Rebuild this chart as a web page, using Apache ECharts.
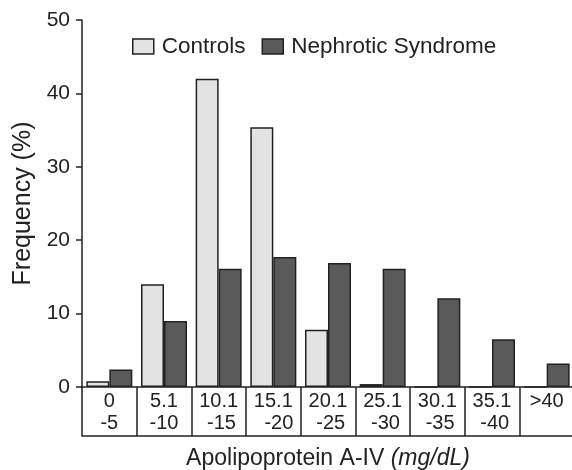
<!DOCTYPE html>
<html>
<head>
<meta charset="utf-8">
<script src="https://cdn.jsdelivr.net/npm/echarts@6/dist/echarts.min.js"></script>
<style>
	html, body { margin: 0; padding: 0; background: #fff; }
	#chart { width: 572px; height: 470px; }
</style>
</head>
<body>
<div id="chart"></div>
<script>
// value bins (mg/dL) and frequencies (%)
const categories = ['0\n-5', '5.1\n-10', '10.1\n -15', '15.1\n  -20', '20.1\n -25', '25.1\n -30', '30.1\n -35', '35.1\n -40', '>40\n'];
const controls = [0.8, 14, 42, 35.4, 7.8, 0.4, 0, 0, 0];
const nephrotic = [2.4, 9, 16.1, 17.7, 16.9, 16.1, 12.1, 6.5, 3.2];
const yTicks = [0, 10, 20, 30, 40, 50];

const font = "'Liberation Sans', Arial, Helvetica, sans-serif";
const ink = '#222';

const chart = echarts.init(document.getElementById('chart'));

const option = {
	backgroundColor: '#fff',
	textStyle: { fontFamily: font },
	legend: {
		left: 127,
		top: 30,
		icon: 'rect',
		itemWidth: 21,
		itemHeight: 15,
		itemGap: 16,
		textStyle: { fontSize: 22.5, color: ink, fontFamily: font, padding: [0, 0, 0, 3] },
		itemStyle: { borderColor: ink, borderWidth: 1.5 },
		data: ['Controls', 'Nephrotic Syndrome'],
	},
	grid: { left: 82, top: 20, width: 492, height: 367, outerBoundsMode: 'none', containLabel: false },
	xAxis: [
		{
			type: 'category',
			data: categories,
			axisLine: { lineStyle: { color: ink, width: 1.5 } },
			axisTick: { show: true, inside: false, length: 49, lineStyle: { color: ink, width: 1.5 } },
			axisLabel: {
				color: ink,
				fontSize: 20,
				lineHeight: 22,
				margin: 3,
				interval: 0,
				fontFamily: font,
			},
		},
		{
			type: 'category',
			data: categories,
			position: 'bottom',
			offset: 49,
			axisLine: { lineStyle: { color: ink, width: 1.5 } },
			axisTick: { show: false },
			axisLabel: { show: false },
			name: '{n|Apolipoprotein A-IV }{i|(mg/dL)}',
			nameLocation: 'middle',
			nameGap: 11,
			nameTextStyle: {
				rich: {
					n: { fontSize: 23, color: ink, fontFamily: font },
					i: { fontSize: 23, color: ink, fontStyle: 'italic', fontFamily: font },
				},
			},
		},
	],
	yAxis: {
		type: 'value',
		min: yTicks[0],
		max: yTicks[yTicks.length - 1],
		interval: 10,
		name: 'Frequency (%)',
		nameLocation: 'middle',
		nameGap: 43,
		nameTextStyle: { fontSize: 25, color: ink, fontFamily: font },
		axisLine: { show: true, lineStyle: { color: ink, width: 1.5 } },
		axisTick: { show: true, inside: false, length: 6, lineStyle: { color: ink, width: 1.5 } },
		axisLabel: { color: ink, fontSize: 21, margin: 12, fontFamily: font },
		splitLine: { show: false },
	},
	series: [
		{
			name: 'Controls',
			type: 'bar',
			data: controls,
			barWidth: 23,
			barGap: '0%',
			itemStyle: { color: '#e3e3e3', borderColor: ink, borderWidth: 1.5 },
		},
		{
			name: 'Nephrotic Syndrome',
			type: 'bar',
			data: nephrotic,
			barWidth: 23,
			barGap: '0%',
			itemStyle: { color: '#5a5a5a', borderColor: ink, borderWidth: 1.5 },
		},
	],
};

chart.setOption(option);
</script>
</body>
</html>
